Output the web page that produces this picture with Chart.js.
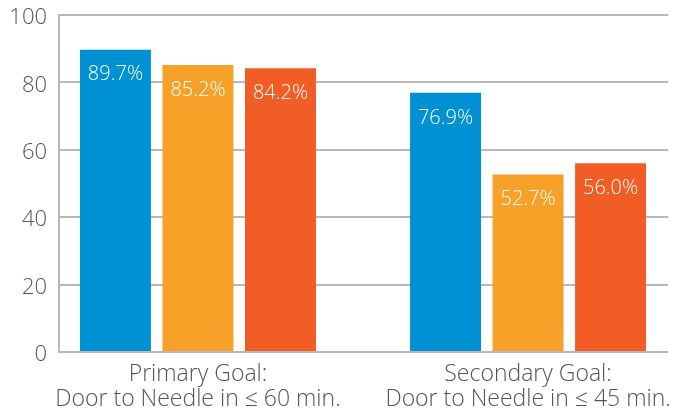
<!DOCTYPE html>
<html>
<head>
<meta charset="utf-8">
<script src="https://cdn.jsdelivr.net/npm/chart.js@4/dist/chart.umd.min.js"></script>
<style>
  html, body { margin: 0; padding: 0; background: #ffffff; }
  #wrap { width: 677px; height: 412px; }
</style>
</head>
<body>
<div id="wrap"><canvas id="chart" width="677" height="412"></canvas></div>
<script>
// Goal categories (two-line labels)
const categories = [
  ['Primary Goal:', 'Door to Needle in \u2264 60 min.'],
  ['Secondary Goal:', 'Door to Needle in \u2264 45 min.']
];
// Three series per goal, percent values
const seriesA = [89.7, 76.9];
const seriesB = [85.2, 52.7];
const seriesC = [84.2, 56.0];
const seriesColors = ['#0090d4', '#f8a128', '#f15d24'];
const yTicks = [0, 20, 40, 60, 80, 100];

const FONT = "'Open Sans', 'DejaVu Sans', sans-serif";

// Percent labels drawn inside each bar near its top
const barLabels = {
  id: 'barLabels',
  afterDatasetsDraw(chart) {
    const ctx = chart.ctx;
    ctx.save();
    ctx.fillStyle = '#ffffff';
    ctx.font = '300 20px ' + FONT;
    ctx.textAlign = 'center';
    ctx.textBaseline = 'middle';
    chart.data.datasets.forEach((ds, di) => {
      const meta = chart.getDatasetMeta(di);
      meta.data.forEach((bar, i) => {
        const v = ds.data[i].y;
        ctx.fillText(v.toFixed(1) + '%', bar.x, bar.y + 25);
      });
    });
    ctx.restore();
  }
};

const toPoints = arr => arr.map((v, i) => ({ x: i, y: v }));

new Chart(document.getElementById('chart'), {
  type: 'bar',
  data: {
    datasets: [
      { data: toPoints(seriesA), backgroundColor: seriesColors[0] },
      { data: toPoints(seriesB), backgroundColor: seriesColors[1] },
      { data: toPoints(seriesC), backgroundColor: seriesColors[2] }
    ]
  },
  options: {
    responsive: false,
    animation: false,
    devicePixelRatio: 1,
    categoryPercentage: 0.75,
    barPercentage: 0.86,
    layout: { padding: { top: 0, right: 9, left: 0, bottom: 0 } },
    plugins: { legend: { display: false }, tooltip: { enabled: false } },
    scales: {
      x: {
        type: 'linear',
        offset: false,
        min: -0.421,
        max: 1.424,
        grid: { display: false },
        border: { display: false },
        afterBuildTicks(scale) {
          scale.ticks = categories.map((c, i) => ({ value: i }));
        },
        afterFit(scale) {
          scale.height = 60;
          scale.paddingLeft = 0;
          scale.paddingRight = 0;
        },
        ticks: {
          autoSkip: false,
          maxRotation: 0,
          padding: 2,
          color: '#555555',
          font: { family: FONT, size: 23, weight: '300', lineHeight: 1.1 },
          callback: (value) => categories[value] || ''
        }
      },
      y: {
        min: 0,
        max: 100,
        afterBuildTicks(scale) {
          scale.ticks = yTicks.map(v => ({ value: v }));
        },
        afterFit(scale) {
          scale.width = 59;
          scale.paddingTop = 15;
          scale.paddingBottom = 0;
        },
        grid: { color: '#b8b8bc', lineWidth: 2, drawTicks: false },
        border: { display: true, color: '#b8b8bc', width: 2 },
        ticks: {
          padding: 12,
          labelOffset: 3,
          color: '#555555',
          font: { family: FONT, size: 22, weight: '300', lineHeight: 1 }
        }
      }
    }
  },
  plugins: [barLabels]
});
</script>
</body>
</html>
